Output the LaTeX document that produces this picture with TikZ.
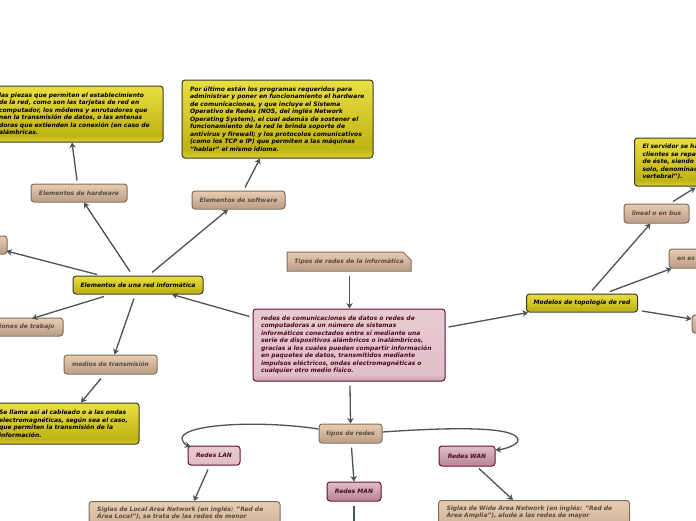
\documentclass[tikz,border=0pt]{standalone}
\usepackage{fontspec}
\setsansfont{DejaVu Sans}
\usetikzlibrary{arrows.meta,shapes.misc}
\definecolor{linkgray}{HTML}{4A5356}
\definecolor{yellowline}{HTML}{3A3A2C}
\definecolor{tanline}{HTML}{7E6D5C}
\definecolor{tantext}{HTML}{5A4C3E}
\definecolor{pinkline}{HTML}{6B0F2A}
\definecolor{pinktext}{HTML}{4E0A20}
\definecolor{yA}{HTML}{EADF42}
\definecolor{yB}{HTML}{BFB214}
\definecolor{yC}{HTML}{DACE32}
\definecolor{tA}{HTML}{E8CDB2}
\definecolor{tB}{HTML}{BFA28A}
\definecolor{tC}{HTML}{CFB39B}
\definecolor{pA}{HTML}{E8CBD2}
\definecolor{pB}{HTML}{E0BEC7}
\definecolor{pC}{HTML}{C9A3AE}
\definecolor{rA}{HTML}{E3BFCA}
\definecolor{rB}{HTML}{BA8A99}
\definecolor{rC}{HTML}{CBA3B0}
\pgfdeclareverticalshading{yellowshade}{100bp}{color(0bp)=(yC); color(25bp)=(yC); color(31bp)=(yB); color(75bp)=(yA); color(100bp)=(yA)}
\pgfdeclareverticalshading{tanshade}{100bp}{color(0bp)=(tC); color(25bp)=(tC); color(31bp)=(tB); color(75bp)=(tA); color(100bp)=(tA)}
\pgfdeclareverticalshading{pinkshade}{100bp}{color(0bp)=(pC); color(25bp)=(pC); color(29bp)=(pB); color(75bp)=(pA); color(100bp)=(pA)}
\pgfdeclareverticalshading{roseshade}{100bp}{color(0bp)=(rC); color(25bp)=(rC); color(31bp)=(rB); color(75bp)=(rA); color(100bp)=(rA)}
\tikzset{
	txt/.style={font=\sffamily\bfseries\itshape\fontsize{6}{7.5}\selectfont, inner sep=0pt},
	yellowbox/.style={txt, shade, shading=yellowshade, draw=yellowline, line width=1pt, rounded corners=3pt, text=black},
	tanbox/.style={txt, shade, shading=tanshade, draw=tanline, line width=1pt, rounded corners=3pt, text=tantext},
	pinkbox/.style={txt, shade, shading=pinkshade, draw=pinkline, line width=1pt, rounded corners=3pt, text=pinktext},
	rosebox/.style={pinkbox, shading=roseshade},
	link/.style={draw=linkgray, line width=1.3pt, -{Stealth[length=5.5pt,width=6.5pt]}},
}
\begin{document}
\begin{tikzpicture}[x=1pt,y=-1pt]
	\path[use as bounding box, clip] (0,0) rectangle (696,520);
	\fill[white] (0,0) rectangle (696,520);
	\node[yellowbox, minimum width=172pt, minimum height=56pt, text width=156pt, align=left] (hwtext) at (77,114) {las piezas que permiten el establecimiento\\de la red, como son las tarjetas de red en\\computador, los módems y enrutadores que\\nen la transmisión de datos, o las antenas\\doras que extienden la conexión (en caso de\\alámbricas.};
	\node[yellowbox, minimum width=191pt, minimum height=78pt, text width=175pt, align=left] (swtext) at (277.5,119) {Por último están los programas requeridos para\\administrar y poner en funcionamiento el hardware\\de comunicaciones, y que incluye el Sistema\\Operativo de Redes (NOS, del inglés Network\\Operating System), el cual además de sostener el\\funcionamiento de la red le brinda soporte de\\antivirus y firewall; y los protocolos comunicativos\\(como los TCP e IP) que permiten a las máquinas\\"hablar" el mismo idioma.};
	\node[tanbox, minimum width=96pt, minimum height=18pt] (hw) at (79,193) {Elementos de hardware};
	\node[tanbox, minimum width=93pt, minimum height=18pt] (sw) at (238.5,200) {Elementos de software};
	\node[yellowbox, minimum width=130pt, minimum height=18pt] (red) at (138,285) {Elementos de una red informática};
	\node[tanbox, minimum width=17pt, minimum height=18pt] (stub) at (-1.5,245) {};
	\node[tanbox, minimum width=72pt, minimum height=18pt] (est) at (27,327) {iones de trabajo};
	\node[tanbox, minimum width=93pt, minimum height=19pt] (med) at (110.5,364.5) {medios de transmisión};
	\node[yellowbox, minimum width=148pt, minimum height=41pt, text width=132pt, align=left] (medtext) at (65,423.5) {Se llama así al cableado o a las ondas\\electromagnéticas, según sea el caso,\\que permiten la transmisión de la\\información.};
	\node[tanbox, chamfered rectangle, chamfered rectangle corners=north east, chamfered rectangle xsep=5pt, chamfered rectangle ysep=5pt, sharp corners, minimum width=124pt, minimum height=19pt] (tipos) at (349,261.5) {Tipos de redes de la informática};
	\node[pinkbox, minimum width=192pt, minimum height=72pt, text width=176pt, align=left] (main) at (349,345) {redes de comunicaciones de datos o redes de\\computadoras a un número de sistemas\\informáticos conectados entre sí mediante una\\serie de dispositivos alámbricos o inalámbricos,\\gracias a los cuales pueden compartir información\\en paquetes de datos, transmitidos mediante\\impulsos eléctricos, ondas electromagnéticas o\\cualquier otro medio físico.};
	\node[yellowbox, minimum width=111pt, minimum height=18pt] (mod) at (582,303) {Modelos de topología de red};
	\node[tanbox, minimum width=65pt, minimum height=19pt] (lin) at (656.5,213.5) {lineal o en bus};
	\node[tanbox, minimum width=60pt, minimum height=19pt, text width=44pt, align=left] (star) at (699,258.5) {en es};
	\node[tanbox, minimum width=20pt, minimum height=18pt] (bus) at (702,324) {};
	\node[yellowbox, minimum width=120pt, minimum height=48pt, text width=104pt, align=left] (srv) at (694.5,162) {El servidor se ha\\clientes se repa\\de éste, siendo\\solo, denominad\\vertebral").};
	\node[tanbox, minimum width=63pt, minimum height=19pt] (tip) at (350.5,433.5) {tipos de redes};
	\node[pinkbox, minimum width=52pt, minimum height=19pt] (lan) at (214,455.5) {Redes LAN};
	\node[rosebox, minimum width=54pt, minimum height=19pt] (man) at (354,491.5) {Redes MAN};
	\node[rosebox, minimum width=56pt, minimum height=20pt] (wan) at (467,456) {Redes WAN};
	\node[tanbox, minimum width=191pt, minimum height=45pt, text width=175pt, align=left, anchor=north] (lantext) at (184.5,501) {Siglas de Local Area Network (en inglés: "Red de\\Área Local"), se trata de las redes de menor\\\ \\\ \\\ };
	\node[tanbox, minimum width=191pt, minimum height=45pt, text width=175pt, align=left, anchor=north] (wantext) at (534,500) {Siglas de Wide Area Network (en inglés: "Red de\\Área Amplia"), alude a las redes de mayor\\\ \\\ \\\ };
	\coordinate (manend) at (354,535);
	\draw[link] ([shift={(-3,8)}]main.north west) -- ([shift={(34,0)}]red.south);
	\draw[link] ([shift={(-8,-4)}]red.north) -- ([shift={(5,0)}]hw.south);
	\draw[link] ([shift={(14,-3)}]red.north) -- ([shift={(-10.5,0)}]sw.south);
	\draw[link] ([shift={(-2,-3)}]hw.north) -- ([shift={(-5,0)}]hwtext.south);
	\draw[link] ([shift={(6.5,-3)}]sw.north) -- ([shift={(-17.5,0)}]swtext.south);
	\draw[link] ([shift={(-41,-1)}]red.north) -- ([shift={(-1,6)}]stub.east);
	\draw[link] ([shift={(-34,2)}]red.south) -- ([shift={(5,1)}]est.north);
	\draw[link] ([shift={(-4,4)}]red.south) -- ([shift={(4,0)}]med.north);
	\draw[link] ([shift={(-9.5,4)}]med.south) -- ([shift={(16,0)}]medtext.north);
	\draw[link] ([shift={(0.5,4)}]tipos.south) -- ([shift={(0.5,0)}]main.north);
	\draw[link] ([shift={(3,-18)}]main.east) -- ([shift={(2,0)}]mod.south west);
	\draw[link] ([shift={(10,-3)}]mod.north) -- ([shift={(-6,0)}]lin.south);
	\draw[link] ([shift={(28,-2)}]mod.north) -- ([shift={(3,0)}]star.south west);
	\draw[link] ([shift={(4,8)}]mod.east) -- ([shift={(0,-5)}]bus.west);
	\draw[link] ([shift={(16.5,-2)}]lin.north) -- ([shift={(1,1)}]srv.south);
	\draw[link] ([shift={(1,4)}]main.south) -- (tip.north);
	\draw[link] ([shift={(1,4)}]tip.south) -- (man.north);
	\draw[link] ([shift={(-6,4)}]lan.south) -- ([shift={(9.5,0)}]lantext.north);
	\draw[link] ([shift={(0,4)}]man.south) -- (manend);
	\draw[link] ([shift={(12,2)}]wan.south) -- ([shift={(-21,0)}]wantext.north);
	\draw[link] ([shift={(0,-4.5)}]tip.west) .. controls (260,420) and (184,424) .. (182,438) .. controls (182,442) and (186,445) .. ([shift={(3,1)}]lan.north west);
	\draw[link] ([shift={(0,-1.5)}]tip.east) .. controls (440,428) and (517,425) .. (518,440) .. controls (518,445) and (505,449) .. ([shift={(0,-6)}]wan.east);
\end{tikzpicture}
\end{document}
